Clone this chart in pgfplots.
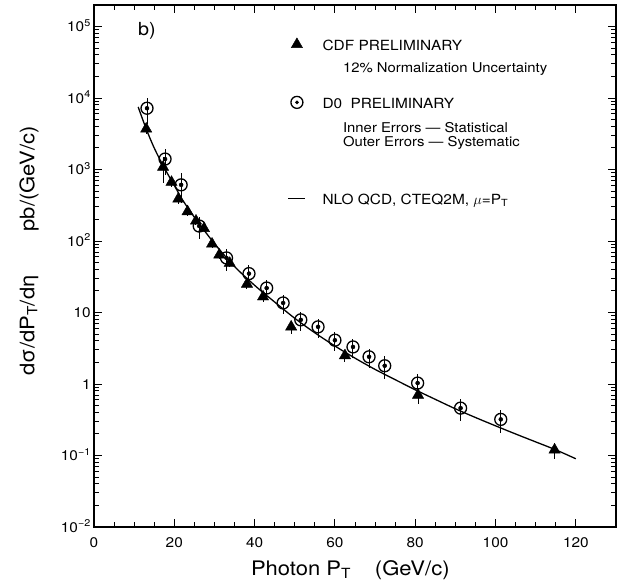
\documentclass[border=0pt]{standalone}
\usepackage{pgfplots}
\pgfplotsset{compat=1.18}
\usepackage{pgfplotstable}
\usepackage{fontspec}
\setmainfont[FakeStretch=1.1]{TeX Gyre Heros}

% circle with a dot in the middle (D0 points)
\pgfdeclareplotmark{odot}{%
  \pgfpathcircle{\pgfpointorigin}{\pgfplotmarksize}%
  \pgfusepathqstroke
  \pgfpathcircle{\pgfpointorigin}{0.33\pgfplotmarksize}%
  \pgfusepathqfill}

% legend row height (pt)
\newcommand{\rowstrut}[1]{\rule{0pt}{#1pt}}

% CDF preliminary: x  y  rel. error
\pgfplotstableread{
x      y      e
13.0   3700   0.15
17.2   1080   0.40
19.3   665    0.15
21.0   388    0.15
23.3   258    0.12
25.4   191    0.12
27.4   150    0.12
29.4   91     0.12
31.2   64     0.12
33.8   49     0.12
38.1   25     0.15
42.1   16.6   0.15
49.1   6.3    0.20
62.5   2.5    0.20
80.7   0.70   0.25
114.7  0.12   0.25
}\cdf

% D0 preliminary: x  y  inner (stat.)  outer (syst.)
\pgfplotstableread{
x      y      ei     eo
13.2   7200   0.15   0.40
17.7   1400   0.15   0.40
21.7   610    0.15   0.45
26.2   162    0.12   0.35
33.0   58     0.12   0.35
38.6   35     0.10   0.30
43.0   22     0.10   0.30
47.1   13.6   0.10   0.30
51.5   7.9    0.10   0.30
55.8   6.3    0.10   0.30
60.0   4.1    0.10   0.30
64.5   3.3    0.10   0.30
68.5   2.4    0.10   0.30
72.4   1.8    0.10   0.35
80.6   1.03   0.12   0.35
91.3   0.46   0.15   0.35
101.3  0.32   0.15   0.35
}\dzero

% NLO QCD, CTEQ2M
\pgfplotstableread{
x     y
11    7500
13    3700
15    2000
17.4  1080
20    600
22    380
25    215
30    92
35    44
40    24
45    14
50    8.3
55    5.2
60    3.4
65    2.3
70    1.6
75    1.15
80    0.83
85    0.61
90    0.45
95    0.34
100   0.26
105   0.2
110   0.155
115   0.12
120   0.09
}\nlo

\begin{document}
\begin{tikzpicture}
\begin{axis}[
    width=522pt, height=522pt,
    scale only axis,
    ymode=log,
    xmin=0, xmax=130,
    ymin=1e-2, ymax=2e5,
    xtick={0,20,...,120},
    minor x tick num=3,
    ytick={1e-2,1e-1,1,10,100,1e3,1e4,1e5},
    yticklabels={10\textsuperscript{−2},10\textsuperscript{−1},1,10,10\textsuperscript{2},10\textsuperscript{3},10\textsuperscript{4},10\textsuperscript{5}},
    /pgf/number format/assume math mode=true,
    tick align=inside,
    major tick length=8pt,
    minor tick length=5pt,
    every tick/.style={black, line width=1pt},
    axis line style={line width=1.6pt},
    ticklabel style={font=\fontsize{14}{16}\selectfont},
    xticklabel style={inner sep=0pt, yshift=-10pt},
    yticklabel style={anchor=base east, inner sep=0pt, xshift=-3pt, yshift=-5pt},
    xlabel={Photon P\textsubscript{T}\hspace{24pt}(GeV/c)},
    xlabel style={at={(axis description cs:0.491,-0.092)}, anchor=base, font=\fontsize{20}{24}\selectfont},
    ylabel={dσ/dP\textsubscript{T}/dη\hspace{44pt}pb/(GeV/c)},
    ylabel style={at={(axis description cs:-0.1245,0.529)}, anchor=center, font=\fontsize{20}{24}\selectfont},
    legend cell align=left,
    legend style={draw=none, fill=none, at={(0.365,0.9436)}, anchor=north west,
        nodes={inner sep=0pt}, row sep=0pt, column sep=16.5pt},
]
\coordinate (ll) at (rel axis cs:0,0);
\coordinate (ur) at (rel axis cs:1,1);

\addplot[only marks, mark=triangle*, mark size=6.5pt, black,
    error bars/.cd, y dir=both, y explicit relative, error mark=none,
    error bar style={line width=1pt}]
    table[x=x, y=y, y error=e] {\cdf};
\addlegendentry{\fontsize{14}{16}\selectfont\smash{CDF PRELIMINARY}\rowstrut{14}}
\addlegendimage{empty legend}
\addlegendentry{\fontsize{13.5}{16}\selectfont\hspace*{20.5pt}\smash{12\% Normalization Uncertainty}\rowstrut{20.5}}
\addlegendimage{empty legend}
\addlegendentry{\rowstrut{19}}

\addplot[forget plot, only marks, mark=none, black,
    error bars/.cd, y dir=both, y explicit relative, error mark=none,
    error bar style={line width=1pt}]
    table[x=x, y=y, y error=eo] {\dzero};
\addplot[only marks, mark=odot, mark size=6pt, black,
    mark options={line width=1.3pt, fill=black},
    error bars/.cd, y dir=both, y explicit relative, error mark=-,
    error mark options={line width=1pt, mark size=3pt},
    error bar style={line width=1pt}]
    table[x=x, y=y, y error=ei] {\dzero};
\addlegendentry{\fontsize{14}{16}\selectfont\smash{D0\hspace{4pt} PRELIMINARY}\rowstrut{14}}
\addlegendimage{empty legend}
\addlegendentry{\fontsize{13.5}{16}\selectfont\hspace*{20.5pt}\smash{Inner Errors --- Statistical}\rowstrut{22}}
\addlegendimage{empty legend}
\addlegendentry{\fontsize{13.5}{16}\selectfont\hspace*{20.5pt}\smash{Outer Errors --- Systematic}\rowstrut{13}}
\addlegendimage{empty legend}
\addlegendentry{\rowstrut{41}}

\addplot[black, line width=1.3pt, smooth, mark=none] table[x=x, y=y] {\nlo};
\addlegendentry{\fontsize{14}{16}\selectfont\smash{NLO QCD, CTEQ2M, $\mu$=P\textsubscript{T}}\rowstrut{14}}

\node[anchor=base, font=\fontsize{18}{20}\selectfont] at (rel axis cs:0.1015,0.9425) {b)};
\end{axis}
\pgfresetboundingbox
\path ([shift={(-94pt,-54pt)}]ll) rectangle ([shift={(6pt,5pt)}]ur);
\end{tikzpicture}
\end{document}
